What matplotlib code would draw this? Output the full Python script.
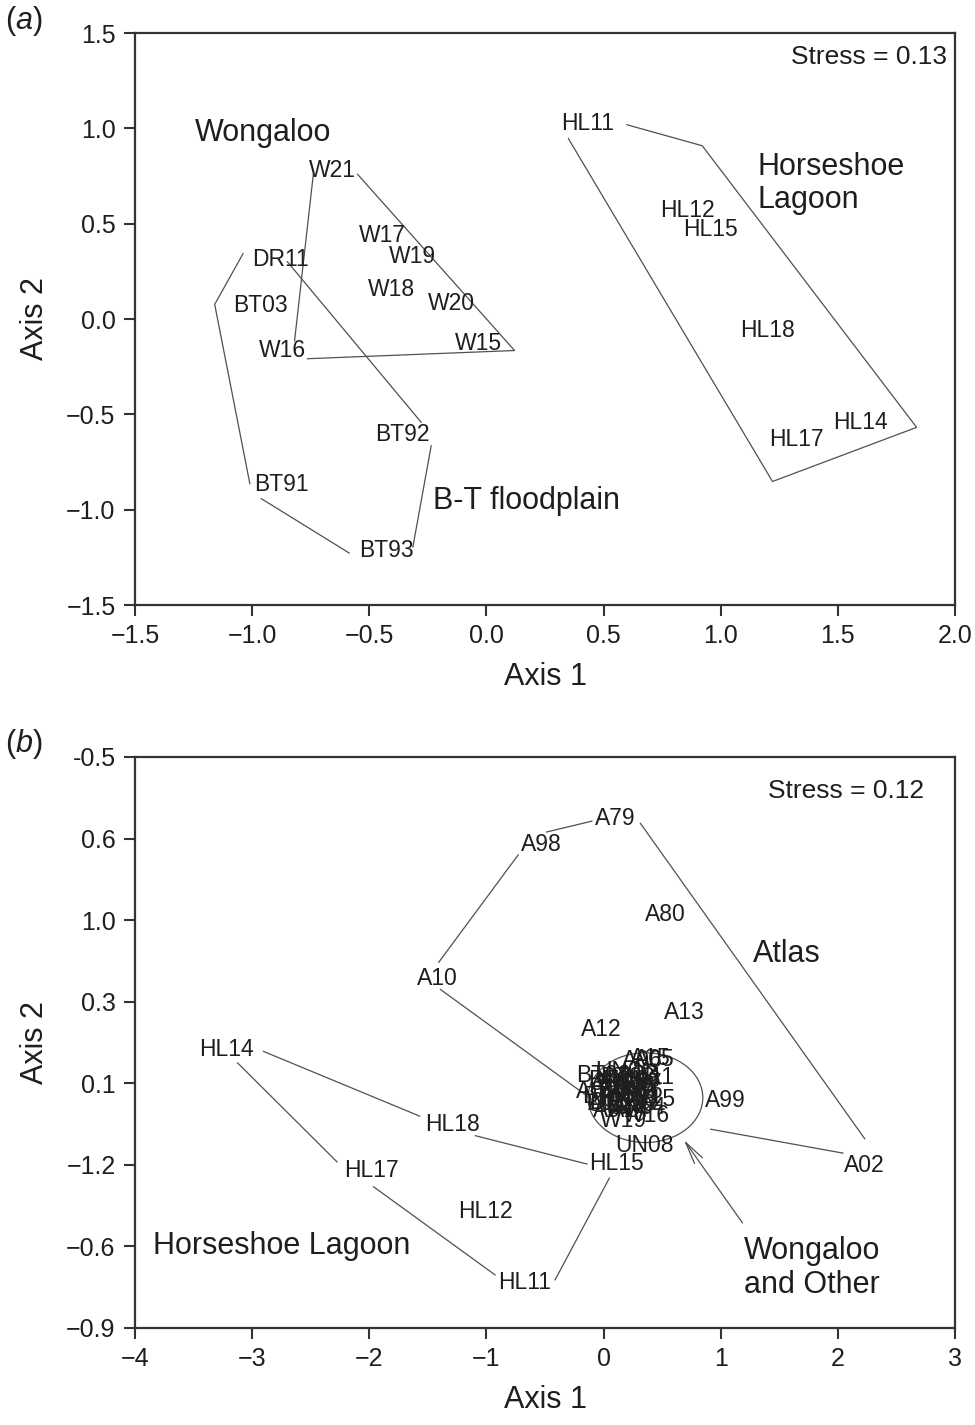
import matplotlib.pyplot as plt
import numpy as np
from matplotlib.patches import Ellipse

plt.rcParams['font.family'] = ['Liberation Sans', 'DejaVu Sans']
plt.rcParams['mathtext.fontset'] = 'custom'
plt.rcParams['mathtext.it'] = 'Liberation Sans:italic'
plt.rcParams['mathtext.rm'] = 'Liberation Sans'

# ---- panel (a) data ----
a_sites = ['W21', 'W17', 'W19', 'W18', 'W20', 'W15', 'W16', 'DR11', 'BT03',
           'BT92', 'BT91', 'BT93', 'HL11', 'HL12', 'HL15', 'HL18', 'HL17', 'HL14']
a_x = [-0.657, -0.443, -0.314, -0.407, -0.150, -0.036, -0.871, -0.879, -0.964,
       -0.357, -0.876, -0.426, 0.433, 0.857, 0.957, 1.200, 1.324, 1.596]
a_y = [0.780, 0.437, 0.326, 0.156, 0.083, -0.126, -0.166, 0.312, 0.073,
       -0.603, -0.867, -1.216, 1.025, 0.568, 0.468, -0.058, -0.630, -0.541]

# hand drawn group outlines (polylines)
a_wong_hull = [[(-0.739, 0.759), (-0.819, -0.114)],
               [(-0.764, -0.208), (0.120, -0.165), (-0.550, 0.759)]]
a_bt_hull = [[(-1.039, 0.343), (-1.160, 0.077), (-1.010, -0.863)],
             [(-0.961, -0.942), (-0.586, -1.227)],
             [(-0.314, -1.195), (-0.236, -0.665)],
             [(-0.279, -0.541), (-0.850, 0.301)]]
a_hl_hull = [[(0.600, 1.019), (0.921, 0.909), (1.836, -0.568),
              (1.221, -0.852), (0.350, 0.946)]]

a_groups = ['Wongaloo', 'Horseshoe\nLagoon', 'B-T floodplain']
a_group_x = [-1.244, 1.155, -0.228]
a_group_y = [0.975, 0.71, -0.954]

a_xticks = [-1.5, -1.0, -0.5, 0.0, 0.5, 1.0, 1.5, 2.0]
a_yticks = [-1.5, -1.0, -0.5, 0.0, 0.5, 1.0, 1.5]

# ---- panel (b) data ----
b_sites = ['A79', 'A98', 'A80', 'A10', 'A13', 'A12', 'A99', 'A02', 'UN08',
           'HL15', 'HL14', 'HL18', 'HL17', 'HL12', 'HL11']
b_x = [0.10, -0.529, 0.523, -1.416, 0.686, -0.023, 1.037, 2.229, 0.351,
       0.114, -3.222, -1.293, -1.986, -1.011, -0.670]
b_y = [0.972, 0.879, 0.622, 0.385, 0.262, 0.197, -0.065, -0.301, -0.230,
       -0.294, 0.125, -0.153, -0.322, -0.470, -0.731]

# overlapping sites in the central cluster
cl_sites = ['A15', 'A06', 'A05', 'BT92', 'A11', 'A03', 'BT91', 'BT93', 'A01',
            'W15', 'W16', 'W19', 'BT03', 'DR11', 'W17', 'W18', 'W20', 'W21',
            'A04', 'A14', 'A97', 'UN01', 'A07', 'A08', 'A09', 'UN02',
            'UN03', 'UN04', 'UN05', 'UN06', 'A16', 'A17']
cl_x = [0.40, 0.33, 0.43, 0.00, 0.44, 0.30, 0.10, 0.20, -0.06,
        0.42, 0.37, 0.17, 0.05, 0.12, 0.22, 0.25, 0.15, 0.30,
        0.08, 0.22, 0.33, 0.18, 0.06, 0.14, 0.26, 0.10,
        0.20, 0.28, 0.12, 0.24, 0.34, 0.04]
cl_y = [0.090, 0.085, 0.088, 0.028, 0.022, 0.030, 0.010, 0.020, -0.032,
        -0.060, -0.118, -0.137, -0.050, -0.070, -0.040, -0.080, -0.020, -0.050,
        -0.100, -0.100, 0.000, 0.045, -0.010, -0.045, -0.015, -0.080,
        -0.060, -0.090, 0.000, 0.010, -0.030, -0.075]

b_atlas_hull = [[(-1.407, 0.445), (-0.729, 0.840)],
                [(-0.486, 0.924), (-0.100, 0.964)],
                [(0.314, 0.956), (2.229, -0.204)],
                [(2.043, -0.257), (0.914, -0.169)],
                [(-1.393, 0.345), (-0.057, -0.073)]]
b_hl_hull = [[(-2.903, 0.117), (-1.570, -0.121)],
             [(-1.094, -0.193), (-0.143, -0.297)],
             [(-3.125, 0.075), (-2.276, -0.289)],
             [(-1.963, -0.381), (-0.926, -0.705)],
             [(-0.414, -0.723), (0.049, -0.349)]]

b_groups = ['Atlas', 'Horseshoe Lagoon', 'Wongaloo\nand Other']
b_group_x = [1.277, -3.846, 1.78]
b_group_y = [0.474, -0.600, -0.68]

b_xticks = [-4, -3, -2, -1, 0, 1, 2, 3]
b_xlabels = ['\u22124', '\u22123', '\u22122', '\u22121', '0', '1', '2', '3']
b_yticks = [-0.9, -0.6, -0.3, 0.0, 0.3, 0.6, 0.9, 1.2]
# the labels printed on the original axis (out of order, as published)
b_ylabels = ['\u22120.9', '\u22120.6', '\u22121.2', '0.1', '0.3', '1.0', '0.6', '-0.5']

txt = '#1e1e1e'
line_c = '#505050'


def fmt(v):
    return ('%.1f' % v).replace('-', '\u2212')


def style_axes(ax):
    for s in ax.spines.values():
        s.set_linewidth(1.6)
        s.set_color('#333333')
    ax.tick_params(direction='out', length=8, width=1.5, labelsize=18,
                   colors='#333333', labelcolor=txt, top=False, right=False, pad=6)


def draw_hull(ax, parts):
    for p in parts:
        p = np.array(p)
        ax.plot(p[:, 0], p[:, 1], color=line_c, lw=0.9)


fig = plt.figure(figsize=(9.75, 14.25), dpi=100)

# ---------------- (a) ----------------
ax1 = fig.add_axes([0.1385, 0.5754, 0.841, 0.4014])
for s, x, y in zip(a_sites, a_x, a_y):
    ax1.text(x, y, s, ha='center', va='center', fontsize=16.5, color=txt)
for h in (a_wong_hull, a_bt_hull, a_hl_hull):
    draw_hull(ax1, h)
for g, x, y in zip(a_groups, a_group_x, a_group_y):
    ax1.text(x, y, g, ha='left', va='center', fontsize=22, color=txt, linespacing=1.15)
ax1.text(1.965, 1.372, 'Stress = 0.13', ha='right', va='center', fontsize=19, color=txt)
ax1.set_xlim(-1.5, 2.0)
ax1.set_ylim(-1.5, 1.5)
ax1.set_xticks(a_xticks)
ax1.set_xticklabels([fmt(v) for v in a_xticks])
ax1.set_yticks(a_yticks)
ax1.set_yticklabels([fmt(v) for v in a_yticks])
ax1.set_xlabel('Axis 1', fontsize=22, color=txt, labelpad=10)
ax1.set_ylabel('Axis 2', fontsize=22, color=txt, labelpad=12)
style_axes(ax1)
fig.text(0.005, 0.985, '($\\it{a}$)', fontsize=22, color=txt, va='center', ha='left')

# ---------------- (b) ----------------
ax2 = fig.add_axes([0.1385, 0.0681, 0.841, 0.4007])
for s, x, y in zip(b_sites, b_x, b_y):
    ax2.text(x, y, s, ha='center', va='center', fontsize=16.5, color=txt)
for s, x, y in zip(cl_sites, cl_x, cl_y):
    ax2.text(x, y, s, ha='center', va='center', fontsize=16.5, color=txt)
draw_hull(ax2, b_atlas_hull)
draw_hull(ax2, b_hl_hull)
ax2.add_patch(Ellipse((0.357, -0.053), 0.98, 0.33, fill=False, ec=line_c, lw=0.9))
ax2.annotate('', xy=(0.686, -0.209), xytext=(1.186, -0.514),
             arrowprops=dict(arrowstyle='->,head_length=1.6,head_width=0.35',
                             color=line_c, lw=0.9, shrinkA=0, shrinkB=0))
for g, x, y in zip(b_groups, b_group_x, b_group_y):
    ha = 'center' if '\n' in g else 'left'
    ax2.text(x, y, g, ha=ha, va='center', fontsize=22, color=txt, linespacing=1.15)
ax2.text(2.734, 1.076, 'Stress = 0.12', ha='right', va='center', fontsize=19, color=txt)
ax2.set_xlim(-4, 3)
ax2.set_ylim(-0.9, 1.2)
ax2.set_xticks(b_xticks)
ax2.set_xticklabels(b_xlabels)
ax2.set_yticks(b_yticks)
ax2.set_yticklabels(b_ylabels)
ax2.set_xlabel('Axis 1', fontsize=22, color=txt, labelpad=10)
ax2.set_ylabel('Axis 2', fontsize=22, color=txt, labelpad=12)
style_axes(ax2)
fig.text(0.005, 0.478, '($\\it{b}$)', fontsize=22, color=txt, va='center', ha='left')

fig.savefig('out.png', dpi=100)
